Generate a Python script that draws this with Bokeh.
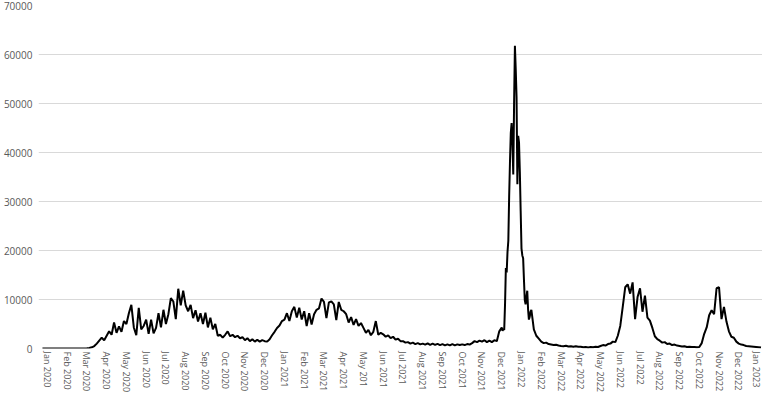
from bokeh.plotting import figure
from bokeh.models import FixedTicker, ColumnDataSource, Range1d
from bokeh.embed import file_html
from bokeh.resources import INLINE

# Month tick labels (as printed in the original, including its typo)
month_labels = [
    "Jan 2020", "Feb 2020", "Mar 2020", "Apr 2020", "May 2020", "Jun 2020",
    "Jul 2020", "Aug 2020", "Sep 2020", "Oct 2020", "Nov 2020", "Dec 2020",
    "Jan 2021", "Feb 2021", "Mar 2021", "Apr 2021", "May 201", "Jun 2021",
    "Jul 2021", "Aug 2021", "Sep 2021", "Oct 2021", "Nov 2021", "Dec 2021",
    "Jan 2022", "Feb 2022", "Mar 2022", "Apr 2022", "May 2022", "Jun 2022",
    "Jul 2022", "Aug 2022", "Sep 2022", "Oct 2022", "Nov 2022", "Dec 2022",
    "Jan 2023",
]
y_ticks = [0, 10000, 20000, 30000, 40000, 50000, 60000, 70000]

# Case counts (8 readings per month unless noted)
cases_dec2019 = [0, 0]
cases_2020 = [
    0, 0, 0, 0, 0, 0, 0, 0,
    0, 0, 0, 0, 10, 10, 20, 20,
    50, 100, 250, 500, 1000, 1600, 2200, 1700,
    2600, 3500, 2800, 5300, 3200, 4500, 3400, 5600,
    5000, 7200, 8900, 4300, 2700, 8300, 3900, 4600,
    5900, 3000, 5900, 3100, 4200, 7200, 4300, 7900,
    5000, 7000, 10300, 9600, 6000, 12200, 8800, 11800,
    8800, 7600, 8900, 6200, 7800, 5500, 7200, 5000,
    7300, 4300, 6300, 3900, 5000, 2600, 2800, 2200,
    2800, 3500, 2500, 2800, 2300, 2600, 2100, 2300,
    1700, 2100, 1500, 1900, 1400, 1800, 1400, 1700,
    1500, 1400, 1900, 2700, 3400, 4200, 4700, 5600,
]
cases_2021 = [  # Jan - Nov 2021
    5900, 7200, 5600, 7600, 8500, 6300, 8300, 5900,
    7600, 4600, 7200, 4900, 7000, 7900, 8200, 10200,
    9500, 6200, 9400, 9600, 9000, 5800, 9500, 7900,
    7600, 7000, 5300, 6400, 4800, 6000, 4600, 5200,
    4200, 3200, 3800, 2700, 3400, 5600, 2800, 3200,
    2900, 2400, 2700, 2100, 2400, 1800, 2000, 1500,
    1500, 1200, 1300, 1000, 1200, 900, 1100, 850,
    1000, 800, 1050, 750, 1000, 750, 950, 700,
    900, 650, 850, 650, 900, 650, 850, 700,
    850, 700, 900, 800, 1100, 1500, 1300, 1600,
    1400, 1700, 1300, 1600, 1300, 1700, 1500, 3500,
]
cases_omicron = [  # Dec 2021 - mid Jan 2022, 24 readings per month
    4300, 3600, 4000, 3800, 9000, 16400, 15500, 19700,
    22000, 31000, 38000, 44000, 46000, 42000, 35500, 50000,
    61800, 57000, 51300, 33500, 43400, 42000, 36000, 28000,
    20400, 19000, 18400, 14000, 9900, 9000, 10500, 11800,
    8000, 5900, 6500, 7500,
]
cases_2022 = [  # mid Jan - Dec 2022
    7900, 3900, 2600, 2000,
    1400, 1100, 1200, 900, 800, 700, 750, 600,
    500, 450, 550, 400, 450, 350, 450, 350,
    350, 250, 300, 200, 300, 250, 350, 300,
    500, 700, 600, 900, 1000, 1400, 1300, 2600,
    4600, 8500, 12500, 13100, 11200, 13500, 6000, 10500,
    12300, 7500, 10800, 6300, 5700, 4200, 2500, 1900,
    1600, 1200, 1300, 900, 1000, 700, 800, 600,
    500, 400, 450, 300, 350, 300, 300, 250,
    300, 1100, 3000, 4300, 6800, 7800, 7000, 12300,
    12500, 6000, 8500, 5500, 3500, 2400, 2200, 1400,
    1000, 800, 700, 500, 450, 400, 350, 300,
]
cases_jan2023 = [250, 200]

# (first month index, readings per month, values)
segments = [
    (-0.25, 8, cases_dec2019),
    (0, 8, cases_2020),
    (12, 8, cases_2021),
    (23, 24, cases_omicron),
    (24.5, 8, cases_2022),
    (36, 8, cases_jan2023),
]
t, v = [], []
for start, per_month, vals in segments:
    for i, val in enumerate(vals):
        t.append(start + i / per_month)
        v.append(val)

src = ColumnDataSource(dict(t=t, v=v))

p = figure(width=762, height=395, output_backend="svg", toolbar_location=None,
           x_range=Range1d(-0.45, 36.2), y_range=Range1d(0, 70000),
           min_border_left=27, min_border_right=0, min_border_top=5,
           min_border_bottom=40)
p.outline_line_color = None
p.background_fill_color = "white"
p.border_fill_color = "white"

p.line("t", "v", source=src, line_color="#000000", line_width=2)

label_color = "#595959"
font = "Open Sans"

p.xaxis.ticker = FixedTicker(ticks=list(range(len(month_labels))))
p.xaxis.major_label_overrides = {i: lab for i, lab in enumerate(month_labels)}
p.xaxis.major_label_orientation = "vertical"
p.xaxis.axis_line_color = None
p.xaxis.major_tick_line_color = None
p.xaxis.minor_tick_line_color = None
p.xaxis.major_tick_out = 0
p.xaxis.major_tick_in = 0
p.xaxis.minor_tick_out = 0
p.xaxis.minor_tick_in = 0
p.xaxis.axis_label_standoff = 0
p.xaxis.major_label_text_color = label_color
p.xaxis.major_label_text_font = font
p.xaxis.major_label_text_font_size = "9px"
p.xaxis.major_label_standoff = 3

p.yaxis.ticker = FixedTicker(ticks=y_ticks)
p.yaxis.axis_line_color = None
p.yaxis.major_tick_line_color = None
p.yaxis.minor_tick_line_color = None
p.yaxis.major_tick_out = 0
p.yaxis.major_tick_in = 0
p.yaxis.minor_tick_out = 0
p.yaxis.minor_tick_in = 0
p.yaxis.major_label_text_color = label_color
p.yaxis.major_label_text_font = font
p.yaxis.major_label_text_font_size = "10px"
p.yaxis.major_label_standoff = 6

p.xgrid.grid_line_color = None
p.ygrid.ticker = FixedTicker(ticks=y_ticks)
p.ygrid.grid_line_color = "#d9d9d9"
p.ygrid.grid_line_width = 1

open("out.html", "w").write(file_html(p, INLINE))
